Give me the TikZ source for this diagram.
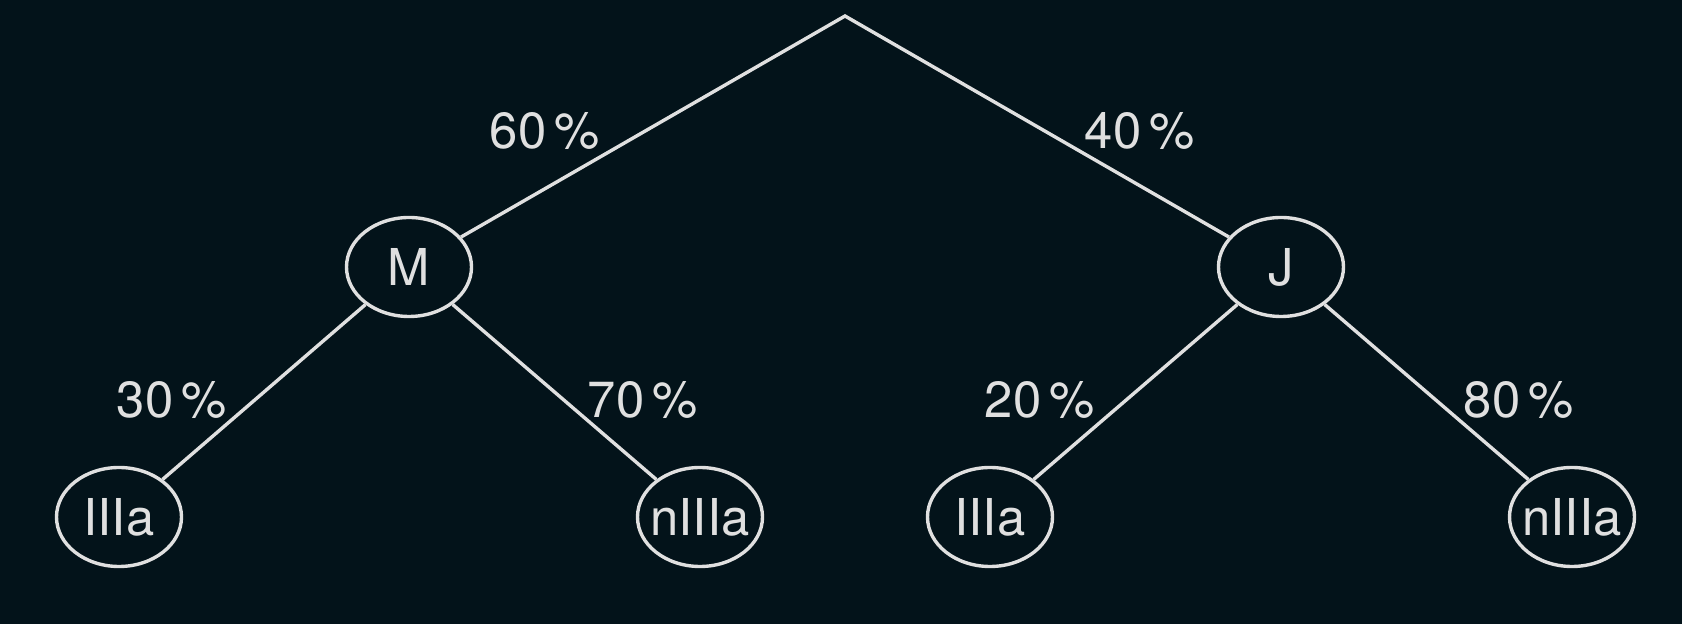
\documentclass[tikz,border=0pt]{standalone}
\usepackage{fontspec}
\setmainfont{TeX Gyre Heros}
\usepackage{tikz}
\usetikzlibrary{shapes}
\definecolor{bgdark}{RGB}{3,19,26}
\definecolor{chalk}{RGB}{224,224,224}
\tikzstyle{state} = [draw=chalk, line width=1.7pt, shape=ellipse, minimum width=62.5pt, minimum height=49.5pt, inner sep=0pt, text=chalk]
\tikzstyle{prob} = [text=chalk, anchor=base, inner sep=0pt]
\tikzstyle{branch} = [draw=chalk, line width=1.7pt]
\newcommand{\pct}[1]{#1\,\%}
\newcommand{\narrow}[1]{\makebox[0pt]{#1}}

\begin{document}
\begin{tikzpicture}[x=0.5pt, y=-0.5pt, font=\fontsize{25.4pt}{30pt}\selectfont]
  \fill[bgdark] (0,0) rectangle (1682,624);
  \coordinate (root) at (845,16);
  \node[state] (M) at (409,267) {\narrow{M}};
  \node[state] (J) at (1281,267) {\narrow{J}};
  \node[state] (M-yes) at (119,517) {\narrow{IIIa}};
  \node[state] (M-no) at (700,517) {\narrow{nIIIa}};
  \node[state] (J-yes) at (990,517) {\narrow{IIIa}};
  \node[state] (J-no) at (1572,517) {\narrow{nIIIa}};
  \draw[branch] (M) -- (root) -- (J);
  \draw[branch] (M) -- (M-yes);
  \draw[branch] (M) -- (M-no);
  \draw[branch] (J) -- (J-yes);
  \draw[branch] (J) -- (J-no);
  % branch probabilities
  \node[prob] (p-M) at (545,149) {\pct{60}};
  \node[prob] (p-J) at (1140,149) {\pct{40}};
  \node[prob] (p-M-yes) at (172,418) {\pct{30}};
  \node[prob] (p-M-no) at (643,418) {\pct{70}};
  \node[prob] (p-J-yes) at (1040,418) {\pct{20}};
  \node[prob] (p-J-no) at (1519,418) {\pct{80}};
\end{tikzpicture}
\end{document}
